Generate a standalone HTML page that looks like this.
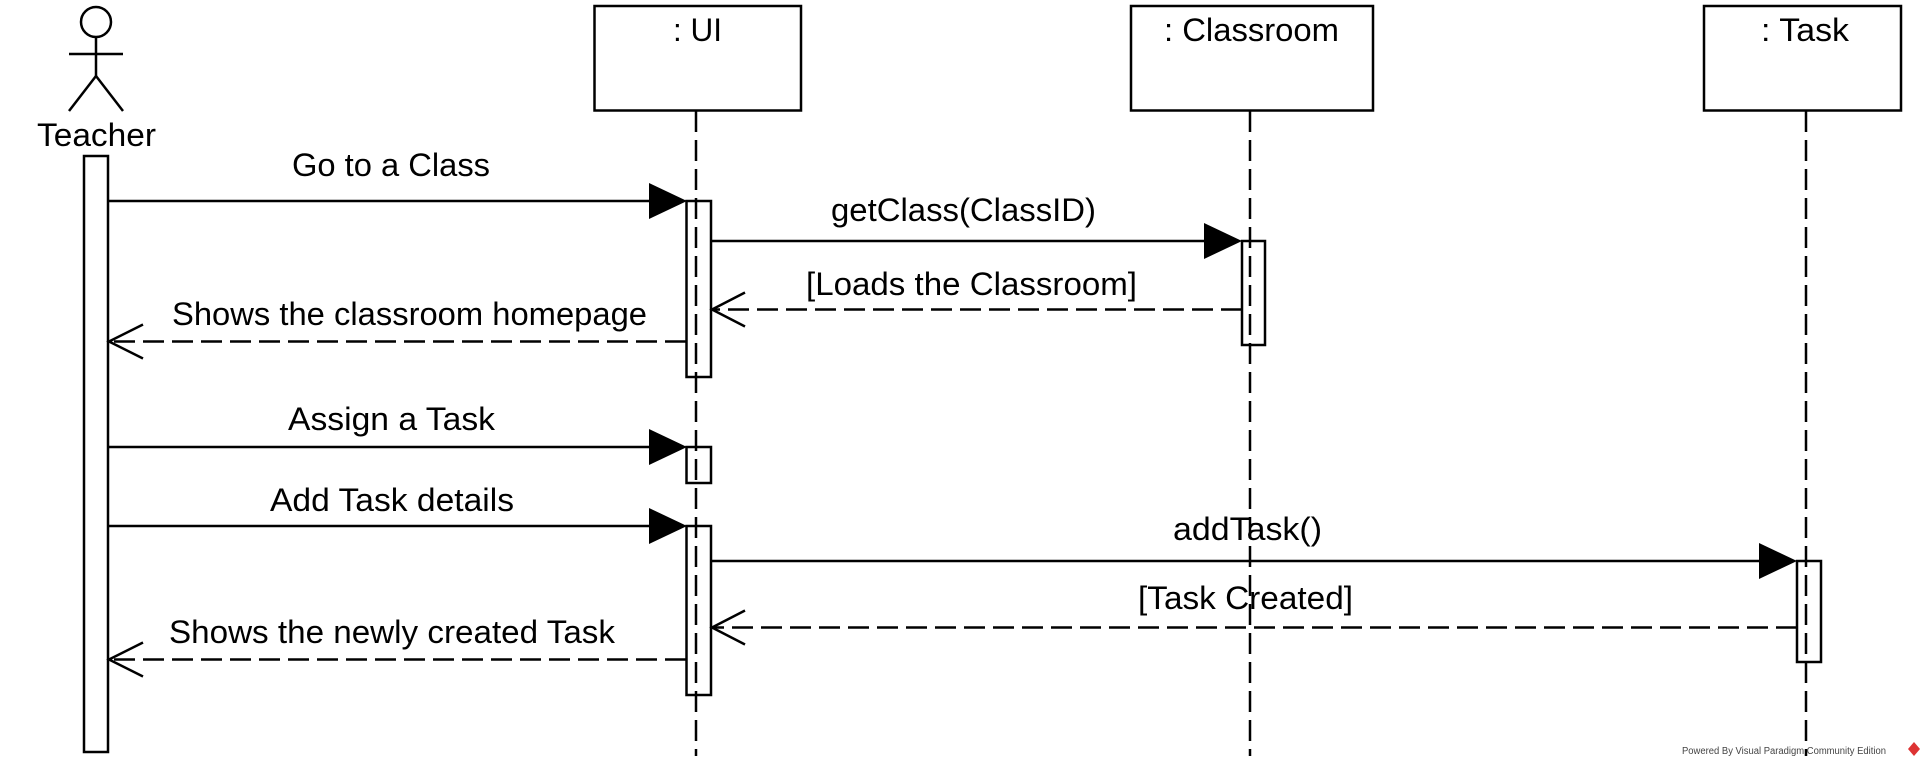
<!DOCTYPE html>
<html><head><meta charset="utf-8"><style>
html,body{margin:0;padding:0;background:#fff;}
svg{display:block;}
text{font-family:"Liberation Sans",Arial,sans-serif;font-size:32px;fill:#000;}
</style></head><body>
<svg width="1926" height="768" viewBox="0 0 1926 768" xmlns="http://www.w3.org/2000/svg">
<g stroke="#000" stroke-width="2.5" fill="none">
<!-- actor -->
<circle cx="96" cy="22" r="15"/>
<line x1="96" y1="37" x2="96" y2="78"/>
<line x1="69" y1="54" x2="123" y2="54"/>
<line x1="96" y1="76" x2="69" y2="111"/>
<line x1="96" y1="76" x2="123" y2="111"/>
<!-- boxes -->
<rect x="594.5" y="6" width="206.5" height="104.5" fill="#fff"/>
<rect x="1131" y="6" width="242" height="104.5" fill="#fff"/>
<rect x="1704" y="6" width="197" height="104.5" fill="#fff"/>
<!-- lifelines -->
<g stroke-dasharray="21 8">
<line x1="696" y1="111" x2="696" y2="756"/>
<line x1="1250" y1="111" x2="1250" y2="756"/>
<line x1="1806" y1="111" x2="1806" y2="756"/>
</g>
<!-- activations -->
<rect x="84" y="156" width="24" height="596" fill="#fff"/>
<rect x="686.5" y="201" width="24.5" height="176"/>
<rect x="686.5" y="447" width="24.5" height="36"/>
<rect x="686.5" y="526" width="24.5" height="169"/>
<rect x="1242" y="241" width="23" height="104"/>
<rect x="1797" y="561" width="24" height="101"/>
<!-- sync messages -->
<line x1="108" y1="201" x2="650" y2="201"/>
<line x1="711" y1="241" x2="1205" y2="241"/>
<line x1="108" y1="447" x2="650" y2="447"/>
<line x1="108" y1="526" x2="650" y2="526"/>
<line x1="711" y1="561" x2="1760" y2="561"/>
<!-- returns -->
<g stroke-dasharray="21 8">
<line x1="1242" y1="309.5" x2="712" y2="309.5"/>
<line x1="686" y1="341.5" x2="109" y2="341.5"/>
<line x1="1797" y1="627.5" x2="712" y2="627.5"/>
<line x1="686" y1="659.5" x2="109" y2="659.5"/>
</g>
<polyline points="745,292.5 712,309.5 745,326.5"/>
<polyline points="143,324.5 109,341.5 143,358.5"/>
<polyline points="745,610.5 712,627.5 745,644.5"/>
<polyline points="143,642.5 109,659.5 143,676.5"/>
</g>
<g fill="#000">
<polygon points="649,183 687,201 649,219"/>
<polygon points="1204,223 1242,241 1204,259"/>
<polygon points="649,429 687,447 649,465"/>
<polygon points="649,508 687,526 649,544"/>
<polygon points="1759,543 1797,561 1759,579"/>
</g>
<text x="37" y="146" textLength="119" lengthAdjust="spacingAndGlyphs">Teacher</text>
<text x="673" y="41" textLength="49" lengthAdjust="spacingAndGlyphs">: UI</text>
<text x="1164" y="41" textLength="175" lengthAdjust="spacingAndGlyphs">: Classroom</text>
<text x="1761" y="41" textLength="88" lengthAdjust="spacingAndGlyphs">: Task</text>
<text x="292" y="176" textLength="198" lengthAdjust="spacingAndGlyphs">Go to a Class</text>
<text x="831" y="221" textLength="265" lengthAdjust="spacingAndGlyphs">getClass(ClassID)</text>
<text x="806" y="295" textLength="331" lengthAdjust="spacingAndGlyphs">[Loads the Classroom]</text>
<text x="172" y="325" textLength="475" lengthAdjust="spacingAndGlyphs">Shows the classroom homepage</text>
<text x="288" y="430" textLength="207" lengthAdjust="spacingAndGlyphs">Assign a Task</text>
<text x="270" y="511" textLength="244" lengthAdjust="spacingAndGlyphs">Add Task details</text>
<text x="1173" y="540" textLength="149" lengthAdjust="spacingAndGlyphs">addTask()</text>
<text x="1138" y="609" textLength="215" lengthAdjust="spacingAndGlyphs">[Task Created]</text>
<text x="169" y="643" textLength="446" lengthAdjust="spacingAndGlyphs">Shows the newly created Task</text>
<text x="1682" y="754" style="font-size:10px;fill:#444" textLength="204" lengthAdjust="spacingAndGlyphs">Powered By Visual Paradigm Community Edition</text>
<polygon points="1914,742 1920,749 1914,756 1908,749" fill="#d33"/>
</svg>
</body></html>
